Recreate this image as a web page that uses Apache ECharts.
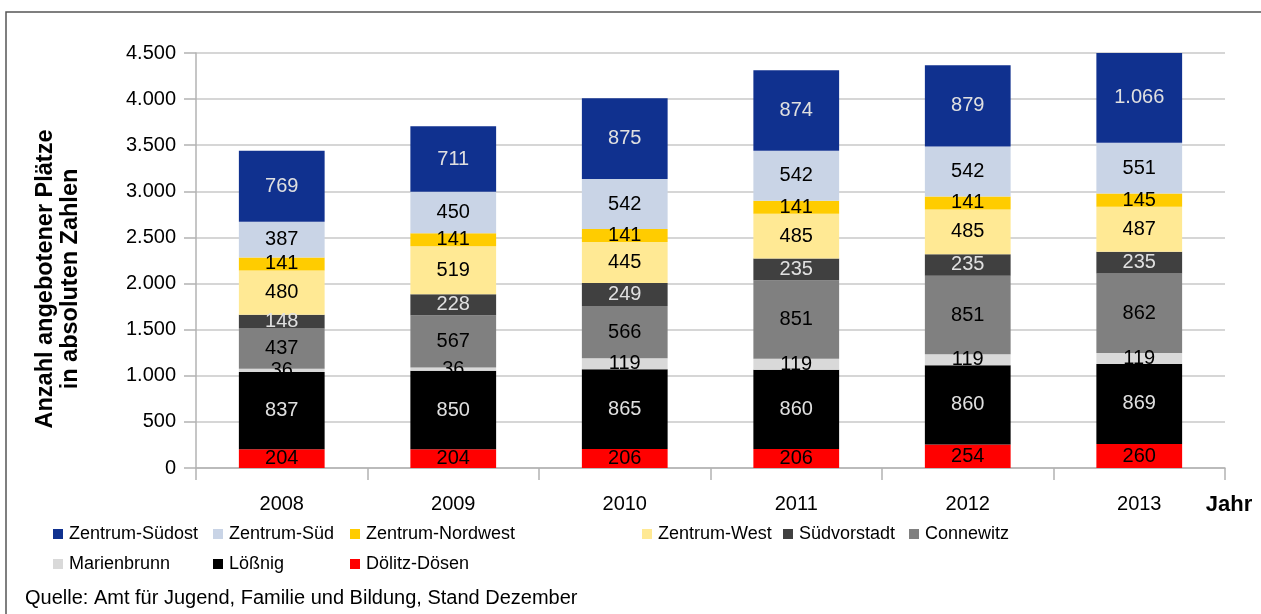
<!DOCTYPE html>
<html>
<head>
<meta charset="utf-8">
<script src="https://cdn.jsdelivr.net/npm/echarts@6/dist/echarts.min.js"></script>
<style>html,body{margin:0;padding:0;background:#fff}#c{width:1261px;height:614px}</style>
</head>
<body>
<div id="c"></div>
<script>
var years = ['2008', '2009', '2010', '2011', '2012', '2013'];
var seriesNames = ['Dölitz-Dösen', 'Lößnig', 'Marienbrunn', 'Connewitz', 'Südvorstadt', 'Zentrum-West', 'Zentrum-Nordwest', 'Zentrum-Süd', 'Zentrum-Südost'];
var doelitzDoesen = [204, 204, 206, 206, 254, 260];
var loessnig = [837, 850, 865, 860, 860, 869];
var marienbrunn = [36, 36, 119, 119, 119, 119];
var connewitz = [437, 567, 566, 851, 851, 862];
var suedvorstadt = [148, 228, 249, 235, 235, 235];
var zentrumWest = [480, 519, 445, 485, 485, 487];
var zentrumNordwest = [141, 141, 141, 141, 141, 145];
var zentrumSued = [387, 450, 542, 542, 542, 551];
var zentrumSuedost = [769, 711, 875, 874, 879, 1066];
var yTicks = {min: 0, max: 4500, interval: 500};

var values = [doelitzDoesen, loessnig, marienbrunn, connewitz, suedvorstadt, zentrumWest, zentrumNordwest, zentrumSued, zentrumSuedost];
var colors = ['#ff0000', '#000000', '#d9d9d9', '#808080', '#404040', '#ffe994', '#ffcc00', '#c9d4e6', '#10318f'];
var labelColors = ['#000', '#e0e0e0', '#000', '#000', '#e0e0e0', '#000', '#000', '#000', '#e0e0e0'];

function fmt(v) {
  return String(v).replace(/\B(?=(\d{3})+(?!\d))/g, '.');
}

var FONT = '"Liberation Sans", Arial, sans-serif';

var series = seriesNames.map(function (n, i) {
  return {
    name: n,
    type: 'bar',
    stack: 'total',
    barWidth: '50%',
    data: values[i],
    itemStyle: {color: colors[i]},
    label: {
      show: true,
      position: 'inside',
      formatter: function (p) { return fmt(p.value); },
      color: labelColors[i],
      fontFamily: FONT,
      fontSize: 20,
      textBorderWidth: 0
    }
  };
});

var legendCols = [
  ['Zentrum-Südost', 'Marienbrunn'],
  ['Zentrum-Süd', 'Lößnig'],
  ['Zentrum-Nordwest', 'Dölitz-Dösen'],
  ['Zentrum-West'],
  ['Südvorstadt'],
  ['Connewitz']
];
var legendLefts = [53, 213, 350, 642, 783, 909];
var legends = legendCols.map(function (col, i) {
  return {
    orient: 'vertical',
    left: legendLefts[i],
    top: 524,
    padding: 0,
    itemGap: 10,
    itemWidth: 10,
    itemHeight: 10,
    icon: 'rect',
    selectedMode: false,
    data: col,
    textStyle: {fontFamily: FONT, fontSize: 18, color: '#000', lineHeight: 20, padding: [0, 0, 0, 1]}
  };
});

var chart = echarts.init(document.getElementById('c'), null, {renderer: 'canvas'});
chart.setOption({
  animation: false,
  backgroundColor: '#fff',
  grid: {left: 196, right: 36, top: 53, bottom: 146, containLabel: false},
  legend: legends,
  xAxis: {
    type: 'category',
    data: years,
    axisLine: {show: true, lineStyle: {color: '#b3b3b3', width: 1.5}},
    axisTick: {show: true, length: 12, lineStyle: {color: '#b3b3b3', width: 1.5}},
    axisLabel: {margin: 26, color: '#000', fontFamily: FONT, fontSize: 20}
  },
  yAxis: {
    type: 'value',
    min: yTicks.min,
    max: yTicks.max,
    interval: yTicks.interval,
    axisLine: {show: true, lineStyle: {color: '#b3b3b3', width: 1.5}},
    axisTick: {show: true, length: 12, lineStyle: {color: '#b3b3b3', width: 1.5}},
    splitLine: {show: true, lineStyle: {color: '#c8c8c8', width: 1.5}},
    axisLabel: {margin: 20, color: '#000', fontFamily: FONT, fontSize: 20, formatter: function (v) { return fmt(v); }}
  },
  series: series,
  graphic: [
    {type: 'polyline', shape: {points: [[6, 700], [6, 12], [1300, 12]]}, style: {fill: null, stroke: '#555', lineWidth: 1.5}, silent: true, z: -10},
    {type: 'text', x: 58, y: 279, rotation: Math.PI / 2,
     style: {text: 'Anzahl angebotener Plätze\nin absoluten Zahlen', fontFamily: FONT, fontSize: 23.5, fontWeight: 'bold', fill: '#000', align: 'center', verticalAlign: 'middle', lineHeight: 25}},
    {type: 'text', x: 1229, y: 505,
     style: {text: 'Jahr', fontFamily: FONT, fontSize: 22, fontWeight: 'bold', fill: '#000', align: 'center', verticalAlign: 'middle'}},
    {type: 'text', x: 25, y: 598,
     style: {text: 'Quelle: Amt für Jugend, Familie und Bildung, Stand Dezember', fontFamily: FONT, fontSize: 20, fill: '#000', align: 'left', verticalAlign: 'middle'}}
  ]
});
</script>
</body>
</html>
